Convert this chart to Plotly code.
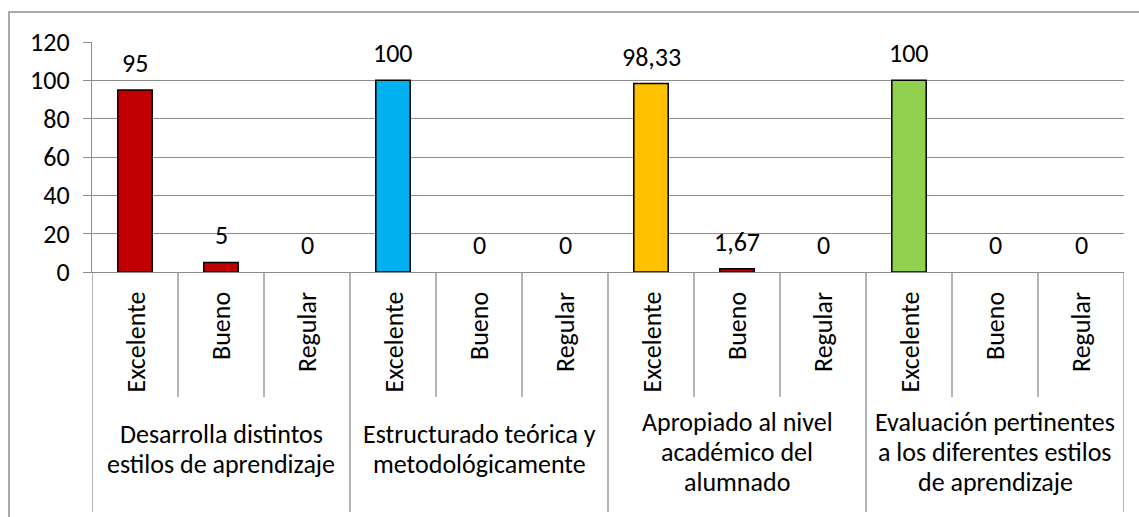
import plotly.graph_objects as go

# ---- data ----
groups = [
    ["Desarrolla distintos", "estilos de aprendizaje"],
    ["Estructurado teórica y", "metodológicamente"],
    ["Apropiado al nivel", "académico del", "alumnado"],
    ["Evaluación pertinentes", "a los diferentes estilos", "de aprendizaje"],
]
subcats = ["Excelente", "Bueno", "Regular"]
values = [95, 5, 0, 100, 0, 0, 98.33, 1.67, 0, 100, 0, 0]
bar_colors = ["#C00000", "#C00000", "#C00000",
              "#00B0F0", "#00B0F0", "#00B0F0",
              "#FFC000", "#C00000", "#FFC000",
              "#92D050", "#92D050", "#92D050"]
y_ticks = [0, 20, 40, 60, 80, 100, 120]

FONT = "Carlito, Lato, sans-serif"
FS = 26
GRAY = "#8C8C8C"
LINE_H = 30

n = len(values)
xs = list(range(n))

fig = go.Figure()
fig.add_trace(go.Bar(
    x=xs, y=values, width=0.4,
    marker=dict(color=bar_colors,
                line=dict(color="#000000",
                          width=[1.5 if v > 0 else 0 for v in values])),
    hoverinfo="skip", showlegend=False,
))

W, H = 1139, 517
L, R, T, B = 92, 15, 42, 245
plot_h = H - T - B
def py(pix):
    return (H - B - pix) / plot_h

annotations = []
# data labels
for i, v in enumerate(values):
    annotations.append(dict(
        x=i, y=v, xref="x", yref="y", text=f"{v:g}".replace(".", ","),
        showarrow=False, yanchor="middle", xanchor="center", yshift=27,
        font=dict(family=FONT, size=FS, color="#000000")))
# sub-category labels
for i in range(n):
    annotations.append(dict(
        x=i, y=py(290), xref="x", yref="paper", text=subcats[i % 3],
        showarrow=False, textangle=-90, yanchor="top", xanchor="center",
        font=dict(family=FONT, size=FS, color="#000000")))
# group labels (each line placed with fixed line spacing)
for g, lines in enumerate(groups):
    nl = len(lines)
    center = 449 if nl == 2 else 452
    for j, line in enumerate(lines):
        off = (j - (nl - 1) / 2) * LINE_H
        annotations.append(dict(
            x=g * 3 + 1, y=py(center), xref="x", yref="paper", text=line,
            showarrow=False, yanchor="middle", xanchor="center", yshift=-off,
            font=dict(family=FONT, size=FS, color="#000000")))

shapes = []
for k in range(n + 1):
    bound = k - 0.5
    y1 = py(512) if k % 3 == 0 else py(397)
    shapes.append(dict(type="line", xref="x", yref="paper", x0=bound, x1=bound,
                       y0=0, y1=y1, line=dict(color=GRAY, width=1.3)))
# outer chart border (cropped at right/bottom)
shapes.append(dict(type="rect", xref="paper", yref="paper",
                   x0=(9 - L) / (W - L - R), x1=1.2, y0=py(540), y1=py(12),
                   line=dict(color=GRAY, width=1.5), fillcolor="rgba(0,0,0,0)"))

fig.update_layout(
    width=W, height=H,
    margin=dict(l=L, r=R, t=T, b=B, autoexpand=False),
    paper_bgcolor="white", plot_bgcolor="white",
    font=dict(family=FONT, size=FS, color="#000000"),
    xaxis=dict(range=[-0.5, n - 0.5], showticklabels=False, showgrid=False,
               zeroline=False, showline=True, linecolor=GRAY, linewidth=1.3,
               ticks="", automargin=False),
    yaxis=dict(range=[0, 120], tickvals=y_ticks, showgrid=True, gridcolor=GRAY,
               gridwidth=1.3, zeroline=False, showline=True, linecolor=GRAY,
               linewidth=1.3, ticks="outside", ticklen=8, tickcolor=GRAY,
               tickwidth=1.3, ticklabelstandoff=8, automargin=False,
               tickfont=dict(family=FONT, size=FS, color="#000000")),
    annotations=annotations, shapes=shapes,
)

fig.write_html("out.html", config={"displayModeBar": False},
               post_script="document.body.style.margin='0';document.body.style.padding='0';")
